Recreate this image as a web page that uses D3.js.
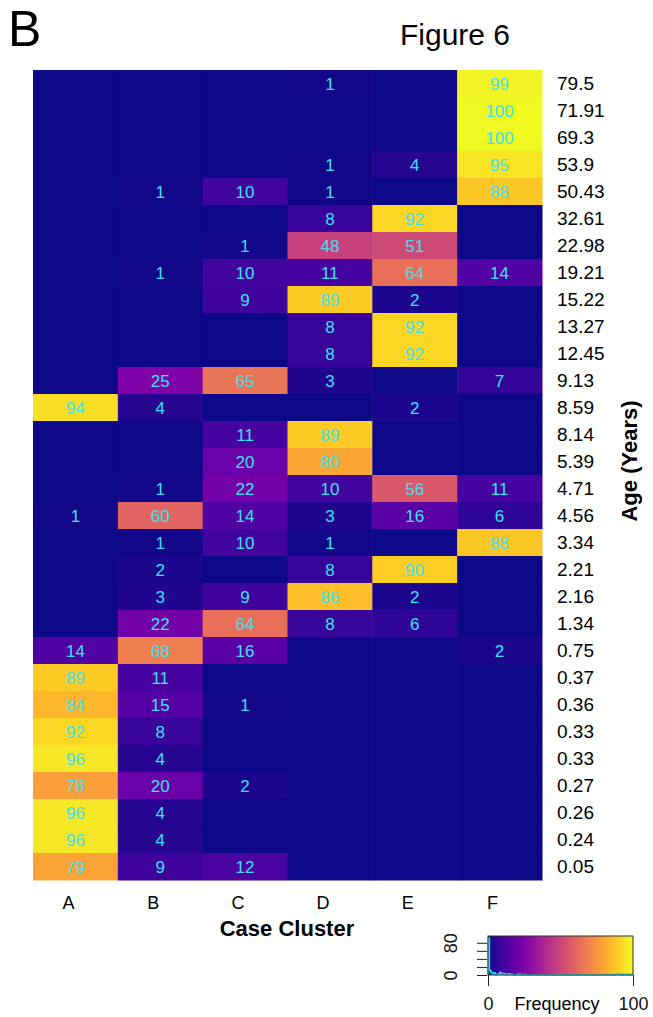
<!DOCTYPE html>
<html>
<head>
<meta charset="utf-8">
<script src="https://cdn.jsdelivr.net/npm/d3@7"></script>
<style>
  body { margin: 0; background: #fff; }
  text { font-family: "Liberation Sans", Arial, sans-serif; }
</style>
</head>
<body>
<div id="chart"></div>
<script>
// clusters (columns) and age rows, top to bottom
const clusters = ["A", "B", "C", "D", "E", "F"];
const ages = ["79.5", "71.91", "69.3", "53.9", "50.43", "32.61", "22.98", "19.21", "15.22", "13.27",
  "12.45", "9.13", "8.59", "8.14", "5.39", "4.71", "4.56", "3.34", "2.21", "2.16",
  "1.34", "0.75", "0.37", "0.36", "0.33", "0.33", "0.27", "0.26", "0.24", "0.05"];

// frequency per cluster, same row order as ages
const colA = [0,0,0,0,0,0,0,0,0,0,0,0,94,0,0,0,1,0,0,0,0,14,89,84,92,96,78,96,96,79];
const colB = [0,0,0,0,1,0,0,1,0,0,0,25,4,0,0,1,60,1,2,3,22,68,11,15,8,4,20,4,4,9];
const colC = [0,0,0,0,10,0,1,10,9,0,0,65,0,11,20,22,14,10,0,9,64,16,0,1,0,0,2,0,0,12];
const colD = [1,0,0,1,1,8,48,11,89,8,8,3,0,89,80,10,3,1,8,86,8,0,0,0,0,0,0,0,0,0];
const colE = [0,0,0,4,0,92,51,64,2,92,92,0,2,0,0,56,16,0,90,2,6,0,0,0,0,0,0,0,0,0];
const colF = [99,100,100,95,88,0,0,14,0,0,0,7,0,0,0,11,6,88,0,0,0,2,0,0,0,0,0,0,0,0];
const columns = [colA, colB, colC, colD, colE, colF];

const keyTicks = [0, 100];
const histLabels = [0, 80];

const W = 653, H = 1017;
const svg = d3.select("#chart").append("svg")
  .attr("width", W).attr("height", H);

svg.append("rect").attr("width", W).attr("height", H).attr("fill", "#fff");

let cells = [];
columns.forEach(function(col, ci) {
  col.forEach(function(v, ri) {
    cells.push({cluster: clusters[ci], row: ri, value: v});
  });
});

const x = d3.scaleBand().domain(clusters).range([33, 542]);
const y = d3.scaleBand().domain(d3.range(ages.length)).range([70, 880]);
const color = d3.scaleSequential(d3.interpolatePlasma).domain([0, 100]);

svg.append("g").selectAll("rect")
  .data(cells).join("rect")
  .attr("x", d => x(d.cluster))
  .attr("y", d => y(d.row))
  .attr("width", x.bandwidth() + 0.5)
  .attr("height", y.bandwidth() + 0.5)
  .attr("fill", d => color(d.value));

// only non-zero cells get a number
svg.append("g").selectAll("text")
  .data(cells.filter(d => d.value > 0)).join("text")
  .attr("x", d => x(d.cluster) + x.bandwidth() / 2)
  .attr("y", d => y(d.row) + y.bandwidth() / 2)
  .attr("dy", "0.36em")
  .attr("text-anchor", "middle")
  .attr("font-size", 17)
  .attr("fill", "#3ee0f0")
  .text(d => d.value);

// column labels
svg.append("g").selectAll("text")
  .data(clusters).join("text")
  .attr("x", d => x(d) + x.bandwidth() / 2 - 7)
  .attr("y", 909)
  .attr("text-anchor", "middle")
  .attr("font-size", 18)
  .text(d => d);

// row labels
svg.append("g").selectAll("text")
  .data(ages).join("text")
  .attr("x", 557)
  .attr("y", (d, i) => y(i) + y.bandwidth() / 2)
  .attr("dy", "0.36em")
  .attr("font-size", 19)
  .text(d => d);

svg.append("text")
  .attr("x", 287).attr("y", 936)
  .attr("text-anchor", "middle")
  .attr("font-size", 22).attr("font-weight", "bold")
  .text("Case Cluster");

svg.append("text")
  .attr("transform", "translate(637,461) rotate(-90)")
  .attr("text-anchor", "middle")
  .attr("font-size", 22).attr("font-weight", "bold")
  .text("Age (Years)");

svg.append("text")
  .attr("x", 8).attr("y", 46)
  .attr("font-size", 50)
  .text("B");

svg.append("text")
  .attr("x", 400).attr("y", 45)
  .attr("font-size", 30)
  .text("Figure 6");

// colour key with histogram of all cell values
const kx = d3.scaleLinear().domain([0, 100]).range([488, 633]);
const allValues = cells.map(d => d.value);
const bins = d3.bin().domain([0, 100]).thresholds(d3.range(1, 100))(allValues);
const maxCount = d3.max(bins, b => b.length);
const ky = d3.scaleLinear().domain([0, maxCount / 0.95]).range([975, 936]);

const defs = svg.append("defs");
const grad = defs.append("linearGradient").attr("id", "keygrad");
grad.selectAll("stop")
  .data(d3.range(0, 1.0001, 0.05)).join("stop")
  .attr("offset", d => d)
  .attr("stop-color", d => color(d * 100));

const key = svg.append("g");
key.append("rect")
  .attr("x", kx(0)).attr("y", 936)
  .attr("width", kx(100) - kx(0)).attr("height", 39)
  .attr("fill", "url(#keygrad)");

let pts = [[0, 0]];
bins.forEach(b => pts.push([b.x0, b.length]));
pts.push([100, bins[bins.length - 1].length]);
const hline = d3.line()
  .curve(d3.curveStepAfter)
  .x(d => kx(d[0]))
  .y(d => ky(d[1]));
key.append("path")
  .attr("d", hline(pts))
  .attr("fill", "none")
  .attr("stroke", "#22e0f0")
  .attr("stroke-width", 1.5);

key.append("rect")
  .attr("x", 488).attr("y", 936)
  .attr("width", 145).attr("height", 39)
  .attr("fill", "none")
  .attr("stroke", "#333").attr("stroke-width", 1);

const leftAxis = d3.axisLeft(ky)
  .tickValues(d3.ticks(0, maxCount, 5))
  .tickSize(10)
  .tickFormat(d => histLabels.includes(d) ? d : "");
const la = key.append("g")
  .attr("transform", "translate(487,0)")
  .call(leftAxis);
la.select(".domain").remove();
la.selectAll("line").attr("stroke", "#222");
la.selectAll(".tick text")
  .attr("font-size", 18)
  .attr("fill", "#111")
  .attr("text-anchor", "middle")
  .attr("x", null)
  .attr("transform", "translate(-36,0) rotate(-90)")
  .attr("y", 0).attr("dy", "0.36em");

const bottomAxis = d3.axisBottom(kx)
  .tickValues(keyTicks)
  .tickSize(11)
  .tickPadding(11);
const ba = key.append("g")
  .attr("transform", "translate(0,975)")
  .call(bottomAxis);
ba.select(".domain").remove();
ba.selectAll("line").attr("stroke", "#222");
ba.selectAll("text").attr("font-size", 18).attr("fill", "#111");

key.append("text")
  .attr("x", 557).attr("y", 1010)
  .attr("text-anchor", "middle")
  .attr("font-size", 18)
  .text("Frequency");
</script>
</body>
</html>
